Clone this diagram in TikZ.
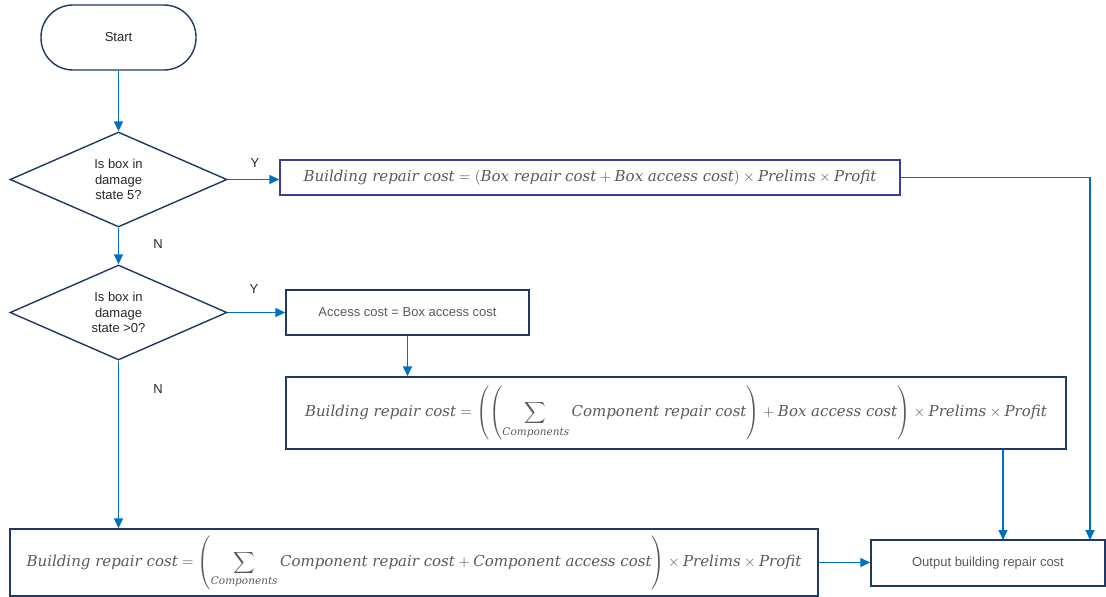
\documentclass[tikz,border=0pt]{standalone}
\usepackage{amsmath}
\usepackage{graphicx}
\usepackage{fontspec}
\setmainfont{Liberation Sans}
\newfontfamily\mserif{DejaVu Serif}
\newcommand\tx[1]{\text{\mserif\itshape #1}}
\newcommand\fml[1]{\scalebox{1.5}{$#1$}}
\usetikzlibrary{shapes.geometric,arrows.meta}
\definecolor{navy}{RGB}{31,56,100}
\definecolor{indigo}{RGB}{60,60,160}
\definecolor{arrblue}{RGB}{0,112,192}
\definecolor{txtgray}{RGB}{89,89,89}
\definecolor{dtxt}{RGB}{40,40,40}
\tikzset{
  box/.style={draw=navy, line width=1.4pt, rectangle, inner sep=0pt, text=txtgray, font=\fontsize{13}{15}\selectfont},
  mbox/.style={box, font=\normalsize},
  dec/.style={draw=navy, line width=1.4pt, diamond, aspect=2.3, inner sep=0pt, align=center, text=dtxt, font=\fontsize{13}{15.5}\selectfont, minimum width=217pt, minimum height=95pt},
  arr/.style={draw=arrblue, line width=1.4pt, -{Triangle[length=10pt,width=9pt]}},
  lab/.style={text=dtxt, font=\fontsize{13}{15}\selectfont, inner sep=0pt}
}
\begin{document}
\begin{tikzpicture}[x=1pt,y=-1pt]
\useasboundingbox (0,0) rectangle (1106,597);
\node[box, text=dtxt, minimum width=155pt, minimum height=65pt, rounded corners=32pt] (start) at (118.5,37.5) {Start};
\node[dec] (d1) at (118.5,179.5) {Is box in\\damage\\state 5?};
\node[dec] (d2) at (118.5,312.5) {Is box in\\damage\\state >0?};
\node[mbox, draw=indigo, minimum width=620pt, minimum height=35pt] (b1) at (590,177.5)
  {\fml{\tx{Building repair cost} = (\tx{Box repair cost} + \tx{Box access cost}) \times \tx{Prelims} \times \tx{Profit}}};
\node[box, minimum width=243pt, minimum height=45pt] (b2) at (407.5,312.5) {Access cost = Box access cost};
\node[mbox, minimum width=780pt, minimum height=72pt] (b3) at (676,413)
  {\fml{\tx{Building repair cost} = \left(\left(\displaystyle\sum_{\tx{Components}} \tx{Component repair cost}\right) + \tx{Box access cost}\right) \times \tx{Prelims} \times \tx{Profit}}};
\node[mbox, minimum width=808pt, minimum height=67pt] (b4) at (414,562.5)
  {\fml{\tx{Building repair cost} = \left(\displaystyle\sum_{\tx{Components}} \tx{Component repair cost} + \tx{Component access cost}\right) \times \tx{Prelims} \times \tx{Profit}}};
\node[box, minimum width=234pt, minimum height=46pt] (out) at (988,563) {Output building repair cost};
\coordinate (o1) at (1003,540);
\coordinate (o2) at (1090,540);
\node[lab] (y1) at (255,163) {Y};
\node[lab] (n1) at (158,244) {N};
\node[lab] (y2) at (254,289) {Y};
\node[lab] (n2) at (158,389) {N};
\draw[arr] (start) -- (d1);
\draw[arr] (d1.east) -- (d1.east -| b1.west);
\draw[arr] (b1.east) -| (o2);
\draw[arr] (d1.south) -- (d2.north);
\draw[arr] (d2.east) -- (d2.east -| b2.west);
\draw[arr] (b2.south) -- (b2.south |- b3.north);
\draw[arr] (b3.south -| o1) -- (o1);
\draw[arr] (d2.south) -- (d2.south |- b4.north);
\draw[arr] (b4.east) -- (b4.east -| out.west);
\end{tikzpicture}
\end{document}
